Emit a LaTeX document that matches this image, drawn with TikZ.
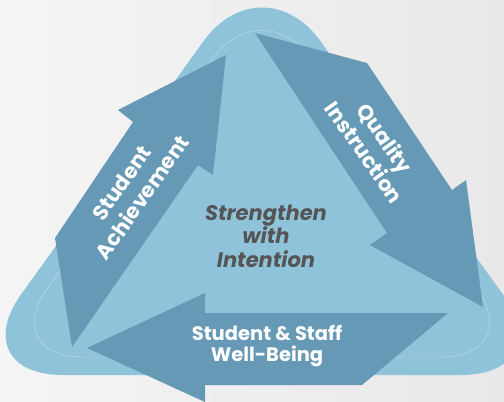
\documentclass[tikz,border=0pt]{standalone}
\usepackage{fontspec}
\newfontfamily\tagfont{Poppins}
\usetikzlibrary{positioning}
\definecolor{skyblob}{RGB}{143,195,218}
\definecolor{steelarrow}{RGB}{102,153,181}
\definecolor{slatetext}{RGB}{85,85,85}
\begin{document}
\begin{tikzpicture}[x=1pt,y=-1pt,
    arrowshape/.style={fill=steelarrow},
    whitelabel/.style={text=white,align=center,inner sep=0pt,
      font=\tagfont\bfseries\fontsize{19.5}{20.5}\selectfont},
    sidelabel/.style={whitelabel,font=\tagfont\bfseries\fontsize{21}{25}\selectfont},
    centerlabel/.style={text=slatetext,align=center,inner sep=0pt,
      font=\tagfont\bfseries\itshape\fontsize{21}{23.5}\selectfont}]

	\useasboundingbox (0,0) rectangle (504,402);
	\clip (0,0) rectangle (504,402);
	\shade[left color=black!4,right color=black!9] (0,0) rectangle (504,402);

	% rounded triangle behind the arrows
	\fill[skyblob,rounded corners=100pt] (262,375) -- (561,375) -- (262,-40) -- (-37,375) -- cycle;
	\draw[white,opacity=.45,line width=.4pt,rounded corners=85pt] (262,357) -- (526,357) -- (262,-10) -- (-2,357) -- cycle;

	% the three arrows
	\fill[arrowshape] (72,347) -- (55,238) -- (133,122) -- (118,110) -- (226,55) -- (213,175) -- (198,165) -- cycle;
	\fill[arrowshape] (255,33) -- (367,63) -- (452,190) -- (466,180) -- (483,307) -- (370,245) -- (387,233) -- cycle;
	\fill[arrowshape] (448,313) -- (362,385) -- (205,385) -- (205,402) -- (87,348) -- (205,293) -- (205,313) -- cycle;

	\node[sidelabel,rotate=55] (achieve) at (132,190) {Student\\Achievement};
	\node[sidelabel,rotate=-55] (quality) at (375,145) {Quality\\Instruction};
	\node[whitelabel] (wellbeing) at (267,346) {Student \& Staff\\Well-Being};
	\node[centerlabel] (core) at (266,236) {Strengthen\\with\\Intention};

\end{tikzpicture}
\end{document}
